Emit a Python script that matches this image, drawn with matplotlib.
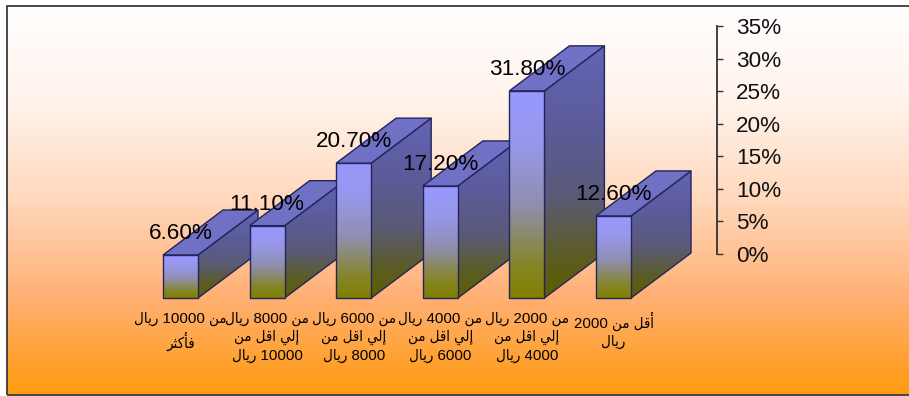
import numpy as np
import matplotlib
matplotlib.use('Agg')
import matplotlib.pyplot as plt
from matplotlib.colors import LinearSegmentedColormap
from matplotlib.patches import Polygon

plt.rcParams['font.family'] = ['Liberation Sans', 'DejaVu Sans']

values = [6.6, 11.1, 20.7, 17.2, 31.8, 12.6]
value_labels = ['6.60%', '11.10%', '20.70%', '17.20%', '31.80%', '12.60%']
categories = [
    'من 10000 ريال\nفأكثر',
    'من 8000 ريال\nإلي اقل من\n10000 ريال',
    'من 6000 ريال\nإلي اقل من\n8000 ريال',
    'من 4000 ريال\nإلي اقل من\n6000 ريال',
    'من 2000 ريال\nإلي اقل من\n4000 ريال',
    'أقل من 2000\nريال',
]
y_ticks = [0, 5, 10, 15, 20, 25, 30, 35]

# أشكال الحروف: isolated, final, initial, medial
FORMS = {
    'ا': ('\uFE8D', '\uFE8E', None, None),
    'أ': ('\uFE83', '\uFE84', None, None),
    'إ': ('\uFE87', '\uFE88', None, None),
    'ر': ('\uFEAD', '\uFEAE', None, None),
    'ث': ('\uFE99', '\uFE9A', '\uFE9B', '\uFE9C'),
    'ف': ('\uFED1', '\uFED2', '\uFED3', '\uFED4'),
    'ق': ('\uFED5', '\uFED6', '\uFED7', '\uFED8'),
    'ك': ('\uFED9', '\uFEDA', '\uFEDB', '\uFEDC'),
    'ل': ('\uFEDD', '\uFEDE', '\uFEDF', '\uFEE0'),
    'م': ('\uFEE1', '\uFEE2', '\uFEE3', '\uFEE4'),
    'ن': ('\uFEE5', '\uFEE6', '\uFEE7', '\uFEE8'),
    'ي': ('\uFEF1', '\uFEF2', '\uFEF3', '\uFEF4'),
}


def shape_word(word):
    """matplotlib does no Arabic shaping, so pick the joined forms by hand."""
    if word[0] not in FORMS:
        return word
    out = []
    for i, ch in enumerate(word):
        joins_prev = i > 0 and FORMS[word[i - 1]][2] is not None
        joins_next = i < len(word) - 1 and FORMS[ch][2] is not None
        if joins_prev and joins_next:
            out.append(FORMS[ch][3])
        elif joins_prev:
            out.append(FORMS[ch][1])
        elif joins_next:
            out.append(FORMS[ch][2])
        else:
            out.append(FORMS[ch][0])
    return ''.join(reversed(out))


def shape_label(label):
    lines = []
    for line in label.split('\n'):
        lines.append(' '.join(shape_word(w) for w in reversed(line.split(' '))))
    return '\n'.join(lines)


W, H = 909, 396
fig = plt.figure(figsize=(W / 100, H / 100), dpi=100, facecolor='white')

# pixels per category / per percent point, from the reference
px_cat = 86.6
px_pct = 228 / 35
base_x, base_y = 163, 298
ax = fig.add_axes([0, 0, 1, 1])
ax.axis('off')

bar_w = 35 / px_cat
depth_x = 60 / px_cat
depth_y = 45 / px_pct

# background panel, runs off the right side of the picture
left, right = (7 - base_x) / px_cat, (W + 6 - base_x) / px_cat
bottom, top_y = (base_y - 395) / px_pct, (base_y - 5.5) / px_pct
bg = LinearSegmentedColormap.from_list('bg', [(0, '#FFFFFF'), (0.25, '#FFF3EB'), (0.5, '#FFD8BC'),
                                              (0.75, '#FFB074'), (1, '#FF9A0E')])
ax.imshow(np.linspace(0, 1, 256).reshape(-1, 1), cmap=bg, aspect='auto', zorder=0,
          extent=[left, right, bottom, top_y])
ax.add_patch(Polygon([(left, bottom), (right, bottom), (right, top_y), (left, top_y)],
                     closed=True, fc='none', ec='#3A3A3A', lw=1.3, zorder=1))

front_cmap = LinearSegmentedColormap.from_list('front', [(0, '#9999FF'), (0.25, '#9797EC'), (0.55, '#908FB0'),
                                                         (0.85, '#858526'), (1, '#808000')])
side_cmap = LinearSegmentedColormap.from_list('side', [(0, '#6363B4'), (0.3, '#5C5C9C'), (0.6, '#5A5A78'),
                                                       (0.85, '#5C5C20'), (1, '#5E6000')])
edge = '#24245E'


def gradient_poly(pts, cmap, z):
    pts = np.array(pts)
    ext = [pts[:, 0].min(), pts[:, 0].max(), pts[:, 1].min(), pts[:, 1].max()]
    img = ax.imshow(np.linspace(0, 1, 128).reshape(-1, 1), cmap=cmap, aspect='auto', extent=ext, zorder=z)
    poly = Polygon(pts, closed=True, fc='none', ec=edge, lw=1, zorder=z + 0.1, joinstyle='round')
    ax.add_patch(poly)
    img.set_clip_path(poly)


for i, v in enumerate(values):
    z = 2 + i
    x0, x1 = i, i + bar_w
    side = [(x1, 0), (x1 + depth_x, depth_y), (x1 + depth_x, v + depth_y), (x1, v)]
    gradient_poly(side, side_cmap, z)
    front = [(x0, 0), (x1, 0), (x1, v), (x0, v)]
    gradient_poly(front, front_cmap, z + 0.2)
    top = [(x0, v), (x1, v), (x1 + depth_x, v + depth_y), (x0 + depth_x, v + depth_y)]
    ax.add_patch(Polygon(top, closed=True, fc='#7070C4', ec=edge, lw=1, zorder=z + 0.3))

for i, (v, t) in enumerate(zip(values, value_labels)):
    ax.annotate(t, (i + bar_w / 2, v), xytext=(0, 15.5), textcoords='offset points',
                ha='center', va='center', fontsize=16.2, color='black', zorder=20)

for i, c in enumerate(categories):
    ax.text(i + bar_w / 2, (base_y - 312) / px_pct, shape_label(c), ha='center', va='top',
            fontsize=10.8, stretch='condensed', color='black', linespacing=1.33, zorder=20)

ax.set_xlim(-base_x / px_cat, (W - base_x) / px_cat)
ax.set_ylim((base_y - H) / px_pct, base_y / px_pct)

# value axis sits on the back wall, the axes is only a pixel wide
ax2 = fig.add_axes([715.5 / W, (H - 254) / H, 1 / W, 228 / H])
ax2.patch.set_alpha(0)
ax2.set_ylim(0, 35)
ax2.set_xticks([])
ax2.set_yticks(y_ticks)
ax2.set_yticklabels([f'{t}%' for t in y_ticks])
for s in ['top', 'bottom', 'left']:
    ax2.spines[s].set_visible(False)
ax2.spines['right'].set_color('#333333')
ax2.spines['right'].set_linewidth(1.3)
ax2.yaxis.tick_right()
ax2.tick_params(axis='y', direction='out', length=4.5, width=1, color='#333333',
                labelsize=16.2, labelcolor='#111111', pad=9.5)

fig.savefig('out.png', dpi=100)
